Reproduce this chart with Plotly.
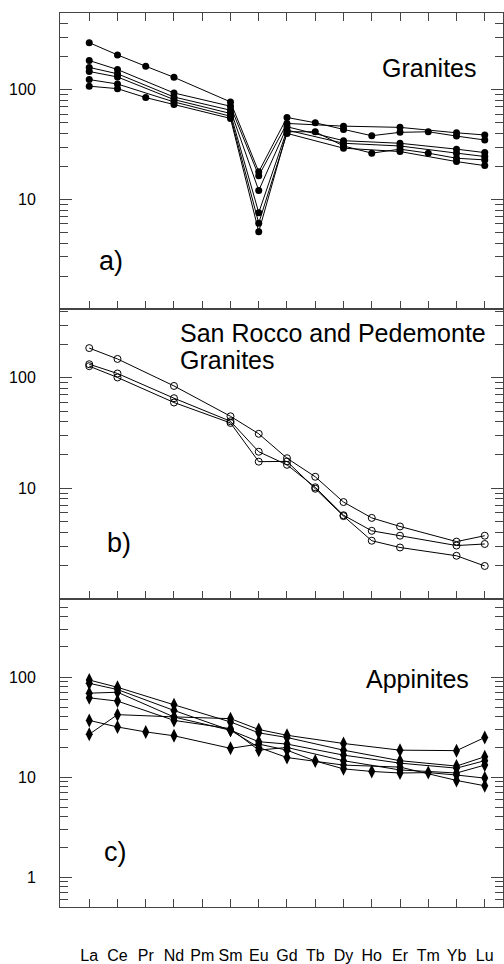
import plotly.graph_objects as go

elements = ["La", "Ce", "Pr", "Nd", "Pm", "Sm", "Eu", "Gd", "Tb", "Dy", "Ho", "Er", "Tm", "Yb", "Lu"]
N = None

# a) Granites (filled circles)
gran_a = [269, 208, 164, 130, N, 77.6, 17.9, 56.0, 50.1, 43.6, 38.2, 41.0, 41.5, 37.9, 34.9]
gran_b = [185, 153, N, 93.6, N, 70.9, 16.5, 49.4, N, 46.7, N, 45.5, N, 40.6, 38.8]
gran_c = [160, 140, N, 86.0, N, 65.2, 12.1, 46.1, N, 34.4, N, 32.6, N, 28.8, 26.8]
gran_d = [147, 131, N, 81.5, N, 60.9, 7.6, 43.0, N, 32.6, N, 30.8, N, 26.5, 24.7]
gran_e = [124, 113, N, 77.6, N, 57.5, 6.1, 40.1, N, 29.4, N, 27.4, N, 22.2, 20.4]
gran_f = [108, 102.5, 85.0, 73.4, N, 54.9, 5.1, 41.5, 41.5, 30.8, 26.5, 28.8, 26.5, 23.8, 23.0]
granites = [gran_a, gran_b, gran_c, gran_d, gran_e, gran_f]

# b) San Rocco and Pedemonte Granites (open circles)
srp_1 = [185.6, 148, N, 84.3, N, 44.8, 31.1, 18.7, 12.7, 7.5, 5.39, 4.51, N, 3.29, 3.72]
srp_2 = [132.6, 109.3, N, 65.3, N, 40.4, 21.4, 16.3, 10.2, 5.7, 4.12, 3.72, N, 3.03, 3.13]
srp_3 = [127.3, 100.6, N, 59.7, N, 39.0, 17.4, 17.5, 9.9, 5.6, 3.35, 2.91, N, 2.45, 1.98]
srp = [srp_1, srp_2, srp_3]

# c) Appinites (diamonds)
app_1 = [36.9, 31.7, 28.3, 25.9, N, 19.4, 21.4, 18.6, 14.5, 12.1, 11.4, 11.0, 11.1, 10.5, 9.78]
app_2 = [26.8, 42.1, N, 40.0, N, 38.4, 29.9, 26.2, N, 21.7, N, 18.6, N, 18.4, 24.9]
app_3 = [93.4, 79.0, N, 52.8, N, 35.6, 27.7, 24.9, N, 18.6, N, 14.6, N, 12.9, 16.0]
app_4 = [86.6, 75.0, N, 46.4, N, 29.4, 22.6, 21.4, N, 16.6, N, 13.8, N, 12.3, 14.6]
app_5 = [69.0, 70.5, N, 39.9, N, 29.4, 19.8, 15.7, N, 13.2, N, 12.6, N, 9.27, 8.2]
app_6 = [62.0, 57.5, N, 36.9, N, 30.5, 18.6, 19.8, N, 14.6, N, 11.8, N, 11.0, 13.2]
appinites = [app_1, app_2, app_3, app_4, app_5, app_6]

FONT = "Arial, Liberation Sans, sans-serif"
fig = go.Figure()

def add(series, xa, ya, marker):
    for s in series:
        fig.add_trace(go.Scatter(
            x=elements, y=s, xaxis=xa, yaxis=ya, mode="lines+markers",
            connectgaps=True, line=dict(color="black", width=1),
            marker=marker, showlegend=False, cliponaxis=False))

add(granites, "x", "y", dict(symbol="circle", size=7, color="black"))
add(srp, "x2", "y2", dict(symbol="circle-open", size=7, color="black", line=dict(width=1, color="black")))
add(appinites, "x3", "y3", dict(symbol="diamond-tall", size=10, color="black"))

minor_a = [2, 3, 4, 5, 6, 7, 8, 9, 20, 30, 40, 50, 60, 70, 80, 90, 200, 300, 400, 500]
minor_c = [0.6, 0.7, 0.8, 0.9] + minor_a

axcol = "#444"
xcommon = dict(type="category", categoryarray=elements, range=[-1.035, 14.646],
               showgrid=False, zeroline=False, showline=True, linecolor=axcol, linewidth=1,
               ticks="inside", ticklen=8, tickcolor=axcol, tickwidth=1,
               tickfont=dict(family=FONT, size=16, color="black"))

def yax(domain, rng, vals, minor):
    return dict(type="log", domain=domain, range=rng, showgrid=False, zeroline=False,
                showline=True, linecolor=axcol, linewidth=1, mirror="ticks",
                ticks="inside", ticklen=12, tickcolor=axcol, tickwidth=1,
                tickvals=vals, ticktext=[str(v) for v in vals],
                ticklabelstandoff=20,
                tickfont=dict(family=FONT, size=16, color="black"),
                minor=dict(tickvals=minor, ticks="inside", ticklen=8, tickcolor=axcol, showgrid=False))

fig.update_layout(
    width=504, height=964, paper_bgcolor="white", plot_bgcolor="white",
    margin=dict(l=60, r=0, t=13, b=49),
    xaxis=dict(xcommon, anchor="y", mirror="ticks", showticklabels=False),
    xaxis2=dict(xcommon, anchor="y2", mirror=True, showticklabels=False),
    xaxis3=dict(xcommon, anchor="y3", mirror=True, showticklabels=True, ticklabelstandoff=34),
    yaxis=yax([0.6685, 1.0], [0, 2.7], [10, 100], minor_a),
    yaxis2=yax([0.3448, 0.6685], [0, 2.619], [10, 100], minor_a),
    yaxis3=yax([0.0, 0.3448], [-0.297, 2.782], [1, 10, 100], minor_c),
)

def note(text, x, y, xanchor="left", size=25):
    fig.add_annotation(text=text, x=x, y=y, xref="paper", yref="paper",
                       xanchor=xanchor, yanchor="middle", showarrow=False,
                       font=dict(family=FONT, size=size, color="black"))

note("Granites", 0.833, 0.938, "center")
note("a)", 0.0833, 0.7228, size=27)
note("San Rocco and Pedemonte", 0.2658, 0.6419)
note("Granites", 0.2658, 0.612)
note("b)", 0.1014, 0.4069, size=27)
note("Appinites", 0.8074, 0.255, "center")
note("c)", 0.0946, 0.061, size=27)

fig.write_html("out.html", config={"displayModeBar": False},
               post_script="document.body.style.margin='0';document.body.style.overflow='hidden';")
